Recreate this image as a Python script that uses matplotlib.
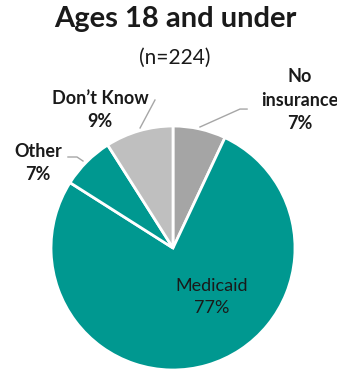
import matplotlib
matplotlib.use("Agg")
import matplotlib.pyplot as plt

# insurance type, ages 18 and under
labels = ["No\ninsurance", "Medicaid", "Other", "Don\u2019t Know"]
shares = [7, 77, 7, 9]
colors = ["#a5a5a5", "#009890", "#009890", "#bfbfbf"]

plt.rcParams["font.family"] = ["Lato", "DejaVu Sans"]

fig = plt.figure(figsize=(3.37, 3.75), dpi=100)
ax = fig.add_axes([0, 0, 1, 1])

ax.pie(shares, colors=colors, startangle=90, counterclock=False, radius=1,
       wedgeprops=dict(edgecolor="white", linewidth=2))
ax.set_xlim(-1.418, 1.344)
ax.set_ylim(-1.041, 2.033)
ax.set_aspect("equal")
ax.axis("off")

ax.text(0.016, 1.875, "Ages 18 and under", ha="center", va="center",
        fontsize=21, fontweight="bold", color="#1a1a1a")
ax.text(0.016, 1.56, "(n=224)", ha="center", va="center",
        fontsize=15, color="#1a1a1a")

# label positions around the pie
pos = [(1.04, 1.213), (0.32, -0.40), (-1.107, 0.697), (-0.598, 1.131)]
for lab, val, (x, y) in zip(labels, shares, pos):
    ax.text(x, y, f"{lab}\n{val}%", ha="center", va="center", fontsize=13,
            color="#1a1a1a", fontweight="bold" if lab != "Medicaid" else "normal",
            linespacing=1.45)

# leader lines
lc = "#a6a6a6"
ax.plot([-0.148, -0.270], [1.213, 0.984], color=lc, lw=1)
ax.plot([0.221, 0.549, 0.607], [0.992, 1.139, 1.139], color=lc, lw=1)
ax.plot([-0.861, -0.787, -0.738], [0.746, 0.746, 0.713], color=lc, lw=1)

fig.savefig("out.png", dpi=100)
